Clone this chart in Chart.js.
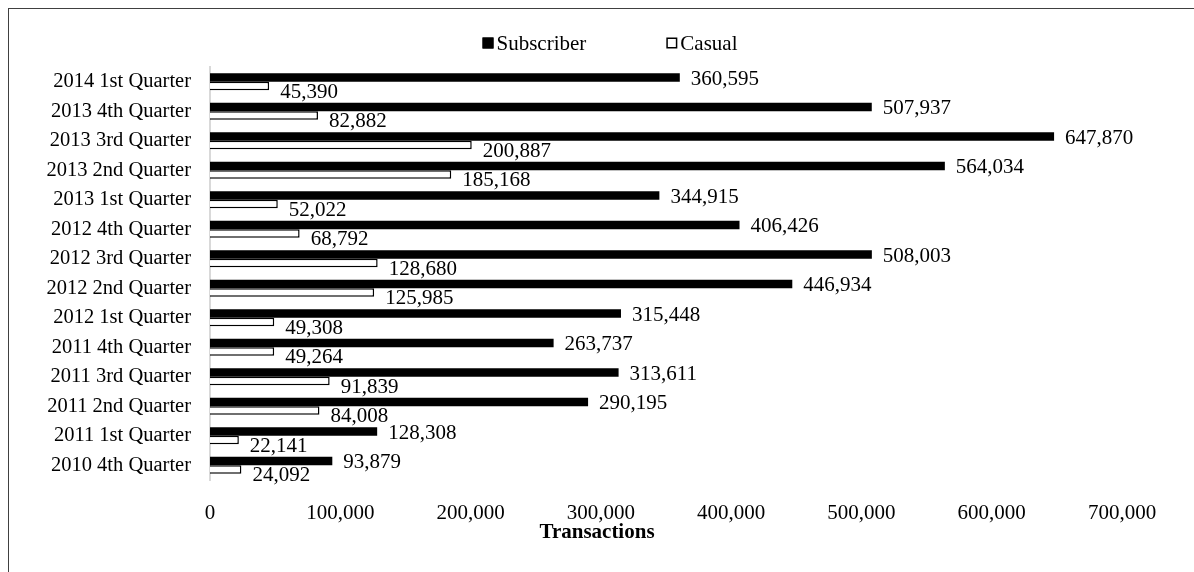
<!DOCTYPE html>
<html>
<head>
<meta charset="utf-8">
<title>Transactions by Quarter</title>
<script src="https://cdn.jsdelivr.net/npm/chart.js@4"></script>
<style>
    body { margin: 0; background: #fff; }
    #wrap { position: relative; width: 1194px; height: 572px; overflow: hidden; }
    #frame { position: absolute; left: 8px; top: 8px; width: 1300px; height: 700px; border: 1.5px solid #404040; }
    #myChart { position: absolute; left: 0; top: 0; }
</style>
</head>
<body>
<div id="wrap">
    <div id="frame"></div>
    <canvas id="myChart" width="1194" height="572"></canvas>
</div>
<script>
// Quarterly transactions, subscribers vs casual riders
const quarters = [
    '2014 1st Quarter', '2013 4th Quarter', '2013 3rd Quarter', '2013 2nd Quarter',
    '2013 1st Quarter', '2012 4th Quarter', '2012 3rd Quarter', '2012 2nd Quarter',
    '2012 1st Quarter', '2011 4th Quarter', '2011 3rd Quarter', '2011 2nd Quarter',
    '2011 1st Quarter', '2010 4th Quarter'
];
const subscriber = [360595, 507937, 647870, 564034, 344915, 406426, 508003, 446934, 315448, 263737, 313611, 290195, 128308, 93879];
const casual = [45390, 82882, 200887, 185168, 52022, 68792, 128680, 125985, 49308, 49264, 91839, 84008, 22141, 24092];
const xTicks = [0, 100000, 200000, 300000, 400000, 500000, 600000, 700000];
const xTitle = 'Transactions';

const serif = "'Liberation Serif', 'Times New Roman', serif";
const fmt = v => v.toLocaleString('en-US');

// value labels just past the end of each bar
const valueLabels = {
    id: 'valueLabels',
    afterDatasetsDraw(chart) {
        const ctx = chart.ctx;
        ctx.save();
        ctx.font = '21px ' + serif;
        ctx.fillStyle = '#000';
        ctx.textAlign = 'left';
        ctx.textBaseline = 'middle';
        chart.data.datasets.forEach((ds, i) => {
            const drop = i === 0 ? 2 : 6;
            chart.getDatasetMeta(i).data.forEach((bar, j) => {
                ctx.fillText(fmt(ds.data[j]), bar.x + 11, bar.y + drop);
            });
        });
        ctx.restore();
    }
};

// legend row on top and the axis title, both centred on the whole canvas
const extras = {
    id: 'extras',
    afterDraw(chart) {
        const ctx = chart.ctx;
        const mid = chart.width / 2;
        ctx.save();
        ctx.font = '21px ' + serif;
        ctx.textBaseline = 'middle';
        ctx.textAlign = 'left';
        const box = 11, gap = 3, spacing = 80, y = 43;
        const items = chart.data.datasets.map(ds => ({
            text: ds.label, fill: ds.backgroundColor, w: ctx.measureText(ds.label).width
        }));
        let total = 0;
        items.forEach((it, i) => { total += box + gap + it.w + (i ? spacing : 0); });
        let x = mid + 13 - total / 2;
        items.forEach(it => {
            ctx.fillStyle = it.fill;
            ctx.fillRect(x, y - box / 2, box, box);
            ctx.strokeStyle = '#000';
            ctx.lineWidth = 1.5;
            ctx.strokeRect(x + 0.75, y - box / 2 + 0.75, box - 1.5, box - 1.5);
            ctx.fillStyle = '#000';
            ctx.fillText(it.text, x + box + gap, y + 1);
            x += box + gap + it.w + spacing;
        });

        ctx.font = 'bold 21px ' + serif;
        ctx.textAlign = 'center';
        ctx.fillText(xTitle, mid, 533);
        ctx.restore();
    }
};

const ctx = document.getElementById('myChart').getContext('2d');
const myChart = new Chart(ctx, {
    type: 'bar',
    data: {
        labels: quarters,
        datasets: [{
            label: 'Subscriber',
            data: subscriber,
            backgroundColor: '#000',
            borderWidth: 0
        }, {
            label: 'Casual',
            data: casual,
            backgroundColor: '#fff',
            borderColor: '#000',
            borderWidth: 1.5
        }]
    },
    options: {
        indexAxis: 'y',
        responsive: false,
        animation: false,
        categoryPercentage: 0.58,
        barPercentage: 1.0,
        layout: { padding: { left: 0, right: 72, top: 67, bottom: 27 } },
        plugins: {
            legend: { display: false },
            tooltip: { enabled: false }
        },
        scales: {
            x: {
                min: 0,
                max: 700000,
                afterBuildTicks: axis => { axis.ticks = xTicks.map(v => ({ value: v })); },
                afterFit: axis => { axis.height = 65; },
                grid: { display: false, drawTicks: false },
                border: { display: false },
                ticks: {
                    padding: 21,
                    color: '#000',
                    font: { family: serif, size: 21 },
                    callback: v => fmt(v)
                }
            },
            y: {
                afterFit: axis => { axis.width = 210; },
                grid: { display: false, drawTicks: false },
                border: { display: true, color: '#d9d9d9', width: 2 },
                ticks: {
                    padding: 19,
                    color: '#000',
                    font: { family: serif, size: 20.5 }
                }
            }
        }
    },
    plugins: [valueLabels, extras]
});
</script>
</body>
</html>
